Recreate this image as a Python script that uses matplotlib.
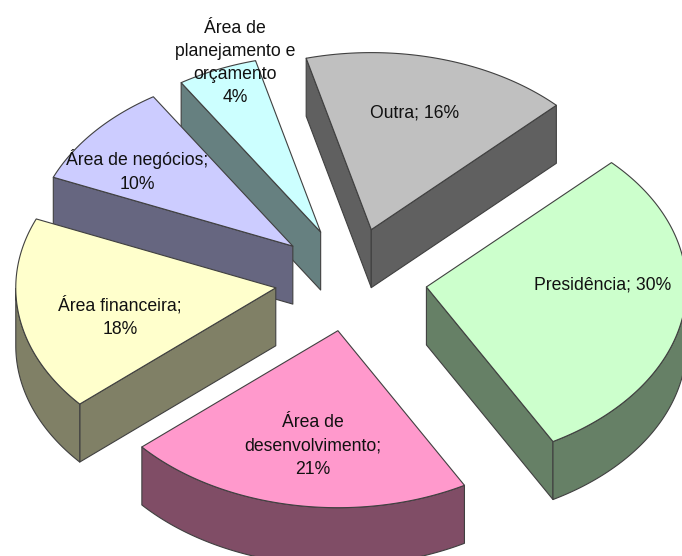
import numpy as np
import matplotlib
matplotlib.use("Agg")
import matplotlib.pyplot as plt
from matplotlib.patches import Polygon

# Data
categories = ["Outra", "Presidência", "Área de\ndesenvolvimento", "Área financeira",
              "Área de negócios", "Área de\nplanejamento e\norçamento"]
shares = [16, 30, 21, 18, 10, 4]
label_texts = ["Outra; 16%", "Presidência; 30%", "Área de\ndesenvolvimento;\n21%",
               "Área financeira;\n18%", "Área de negócios;\n10%",
               "Área de\nplanejamento e\norçamento\n4%"]

# Styles / layout
top_colors = ["#C0C0C0", "#CCFFCC", "#FF99CC", "#FFFFCC", "#CCCCFF", "#CCFFFF"]
side_colors = ["#606060", "#668066", "#804D66", "#808066", "#666680", "#668080"]
label_pos = [(415, 113), (603, 285), (313, 446), (120, 317), (137, 171), (235, 63)]
angle_nudge = [-1.7, 1.9, 0.2, 1.7, 3.4, 0.0]   # perspective correction at each slice's end
START = 104.5
CX, CY, RX, RY = 351.0, 279.6, 260.0, 177.0
EXPLODE = 0.293
DEPTH = 58.0
EDGE = "#404040"

fig = plt.figure(figsize=(6.82, 5.56), dpi=100, facecolor="white")
ax = fig.add_axes([0, 0, 1, 1])
ax.set_xlim(0, 682)
ax.set_ylim(556, 0)
ax.axis("off")

total = sum(shares)
ends = START - np.cumsum(shares) / total * 360 + np.array(angle_nudge)
starts = np.r_[START, ends[:-1]]


def wall(points, color, z):
    pts = np.asarray(points)
    low = pts[::-1] + [0, DEPTH]
    ax.add_patch(Polygon(np.vstack([pts, low]), closed=True, facecolor=color,
                         edgecolor=EDGE, linewidth=0.8, zorder=z, joinstyle="round"))


slices = []
for i in range(len(shares)):
    mid = np.radians((starts[i] + ends[i]) / 2)
    apex = np.array([CX + EXPLODE * RX * np.cos(mid), CY - EXPLODE * RY * np.sin(mid)])
    t = np.radians(np.linspace(starts[i], ends[i], 120))
    arc = np.column_stack([apex[0] + RX * np.cos(t), apex[1] - RY * np.sin(t)])
    slices.append((apex[1], i, apex, arc))

for z, (_, i, apex, arc) in enumerate(sorted(slices, key=lambda s: s[0])):
    base = z * 3 + 1
    # Radial walls, visible when the edge runs leftward on screen (clockwise outline)
    if arc[0, 0] < apex[0]:
        wall([apex, arc[0]], side_colors[i], base)
    if apex[0] < arc[-1, 0]:
        wall([arc[-1], apex], side_colors[i], base)
    # Outer rim: only the stretch that faces the viewer
    facing = np.diff(arc[:, 0]) < 0
    if facing.any():
        idx = np.where(facing)[0]
        wall(arc[idx[0]:idx[-1] + 2], side_colors[i], base + 1)
    ax.add_patch(Polygon(np.vstack([apex, arc]), closed=True, facecolor=top_colors[i],
                         edgecolor=EDGE, linewidth=0.8, zorder=base + 2, joinstyle="round"))

for text, (x, y) in zip(label_texts, label_pos):
    ax.text(x, y, text, ha="center", va="center", family="Liberation Sans",
            fontsize=12.7, color="#111111", linespacing=1.48, zorder=100)

fig.savefig("out.png", dpi=100, facecolor="white")
